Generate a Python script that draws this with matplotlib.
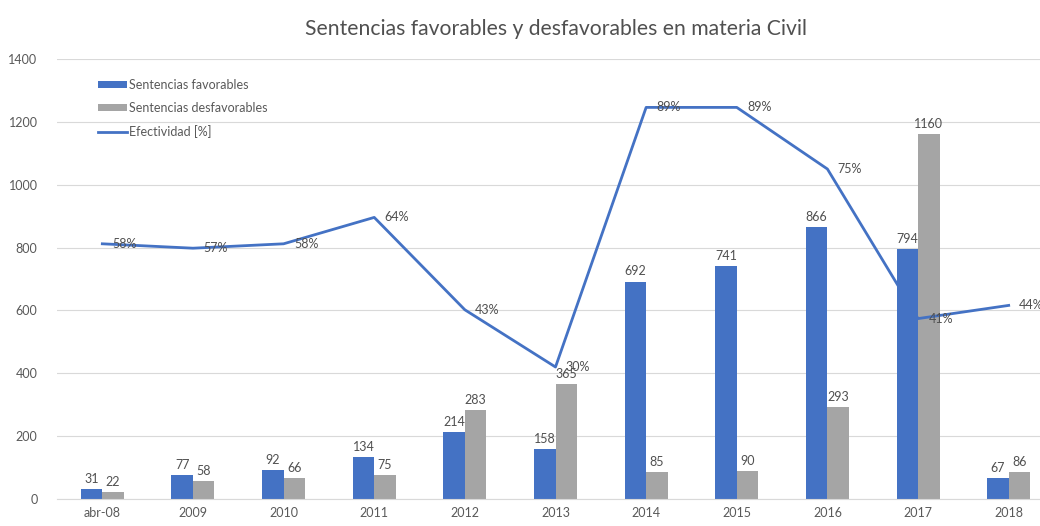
import matplotlib.pyplot as plt
import numpy as np

categories = ["abr-08", "2009", "2010", "2011", "2012", "2013", "2014", "2015", "2016", "2017", "2018"]
favorables = [31, 77, 92, 134, 214, 158, 692, 741, 866, 794, 67]
desfavorables = [22, 58, 66, 75, 283, 365, 85, 90, 293, 1160, 86]
efectividad = [58, 57, 58, 64, 43, 30, 89, 89, 75, 41, 44]

plt.rcParams['font.family'] = ['Lato', 'DejaVu Sans']

fig = plt.figure(figsize=(10.4, 5.26), dpi=100)
ax = fig.add_axes([57/1040, 27/526, 997/1040, 440/526])

x = np.arange(len(categories))
w = 0.237
b1 = ax.bar(x - w/2, favorables, w, color="#4472C4", label="Sentencias favorables", zorder=2)
b2 = ax.bar(x + w/2, desfavorables, w, color="#A5A5A5", label="Sentencias desfavorables", zorder=2)
ax.bar_label(b1, padding=3, fontsize=9, color="#505050")
ax.bar_label(b2, padding=3, fontsize=9, color="#505050")

ax.set_xlim(-0.5, len(categories) - 0.5)
ax.set_ylim(0, 1400)
ax.set_yticks(range(0, 1401, 200))
ax.set_xticks(x)
ax.set_xticklabels(categories)
ax.tick_params(axis='both', length=0, labelsize=9, labelcolor="#595959")
ax.tick_params(axis='y', pad=14)
ax.tick_params(axis='x', pad=6)
ax.grid(axis='y', color="#D9D9D9", linewidth=0.8, zorder=0)
ax.set_axisbelow(True)
for s in ["top", "right", "left"]:
    ax.spines[s].set_visible(False)
ax.spines["bottom"].set_color("#D9D9D9")

# efectividad en eje secundario oculto (0-100)
ax2 = ax.twinx()
ax2.set_ylim(0, 100)
ln, = ax2.plot(x, efectividad, color="#4472C4", linewidth=2, label="Efectividad [%]", zorder=3)
for xi, v in zip(x, efectividad):
    ax2.annotate(f"{v}%", (xi, v), xytext=(7.5, 0), textcoords="offset points",
                 va="center", ha="left", fontsize=9, color="#505050")
ax2.axis("off")

handles = [b1, b2, ln]
ax.legend(handles=handles, labels=[h.get_label() for h in handles], loc="upper left",
          bbox_to_anchor=(0.03, 0.98), frameon=False, fontsize=9, labelcolor="#595959",
          handlelength=2.3, handletextpad=0.2, labelspacing=0.9, handleheight=0.5)

fig.text(0.535, 0.945, "Sentencias favorables y desfavorables en materia Civil",
         ha="center", va="center", fontsize=15.2, color="#505050")

fig.savefig("out.png", dpi=100)
